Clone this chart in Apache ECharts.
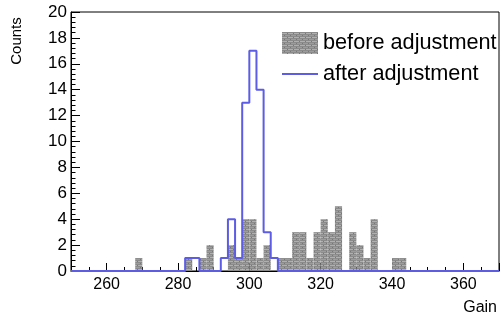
<!DOCTYPE html>
<html>
<head>
<meta charset="utf-8">
<script src="https://cdn.jsdelivr.net/npm/echarts@6/dist/echarts.min.js"></script>
<style>
  html, body { margin: 0; padding: 0; background: #fff; }
  #main { width: 502px; height: 317px; }
</style>
</head>
<body>
<div id="main"></div>
<script>
// histogram binning: 60 bins of width 2 from 250 to 370
const xMin = 250;
const xMax = 370;
const binWidth = 2;

// before adjustment (grey filled histogram), one value per bin
const beforeCounts = [
  0, 0, 0, 0, 0, 0, 0, 0, 0, 1,
  0, 0, 0, 0, 0, 0, 1, 0, 1, 2,
  0, 0, 2, 1, 4, 4, 1, 2, 0, 1,
  1, 3, 3, 1, 3, 4, 3, 5, 0, 3,
  2, 1, 4, 0, 0, 1, 1, 0, 0, 0,
  0, 0, 0, 0, 0, 0, 0, 0, 0, 0
];

// after adjustment (blue outline histogram)
const afterCounts = [
  0, 0, 0, 0, 0, 0, 0, 0, 0, 0,
  0, 0, 0, 0, 0, 0, 1, 1, 0, 0,
  0, 1, 4, 1, 13, 17, 14, 3, 1, 0,
  0, 0, 0, 0, 0, 0, 0, 0, 0, 0,
  0, 0, 0, 0, 0, 0, 0, 0, 0, 0,
  0, 0, 0, 0, 0, 0, 0, 0, 0, 0
];

const yMin = 0;
const yMax = 20;
const yStep = 2;

const FONT = 'Liberation Sans, Arial, Helvetica, sans-serif';

// grey brick-like fill, close to the ROOT fill pattern
function makePattern() {
  let c = document.createElement('canvas');
  c.width = 6;
  c.height = 4;
  let g = c.getContext('2d');
  g.fillStyle = '#8a8a8a';
  g.fillRect(0, 0, 6, 4);
  g.fillStyle = '#b0b0b0';
  g.fillRect(0, 1, 6, 1);
  g.fillStyle = '#9c9c9c';
  g.fillRect(0, 3, 6, 1);
  g.fillStyle = '#787878';
  g.fillRect(2, 3, 1, 1);
  g.fillRect(5, 1, 1, 1);
  return { image: c, repeat: 'repeat' };
}
const greyFill = makePattern();

let beforeData = beforeCounts.map(function (v, i) { return [xMin + i * binWidth, v]; });
let afterData = afterCounts.map(function (v, i) { return [xMin + i * binWidth, v]; });
afterData.push([xMax, afterCounts[afterCounts.length - 1]]);

let myChart = echarts.init(document.getElementById('main'));

let option = {
  animation: false,
  backgroundColor: '#fff',
  grid: {
    left: 71, right: 3, top: 12, bottom: 46,
    show: true, borderColor: '#000', borderWidth: 1
  },
  legend: {
    orient: 'vertical',
    left: 277,
    top: 27,
    itemWidth: 36,
    itemHeight: 22,
    itemGap: 9,
    textStyle: { fontFamily: FONT, fontSize: 21.7, color: '#000', lineHeight: 22 },
    data: [
      { name: 'before adjustment', icon: 'rect', itemStyle: { color: greyFill } },
      { name: 'after adjustment', icon: 'path://M0,10L36,10L36,12L0,12Z', itemStyle: { color: '#5c5ce6' } }
    ]
  },
  xAxis: [
    {
      type: 'value',
      min: xMin,
      max: xMax,
      axisLine: { show: true, lineStyle: { color: '#000' } },
      axisTick: { inside: true, length: 8, lineStyle: { color: '#000' } },
      axisLabel: {
        margin: 6,
        color: '#000', fontFamily: FONT, fontSize: 16,
        formatter: function (v) { return v % 20 === 0 ? String(v) : ''; }
      },
      splitLine: { show: false }
    },
    {
      // minor ticks every 5
      type: 'value',
      position: 'bottom',
      min: xMin,
      max: xMax,
      interval: 5,
      axisLine: { show: false },
      axisTick: { inside: true, length: 4, lineStyle: { color: '#000' } },
      axisLabel: { show: false },
      splitLine: { show: false }
    }
  ],
  yAxis: {
    type: 'value',
    min: yMin,
    max: yMax,
    interval: yStep,
    axisLine: { show: true, lineStyle: { color: '#000' } },
    axisTick: { inside: true, length: 9, lineStyle: { color: '#000' } },
    minorTick: { show: true, splitNumber: 5, length: 4.5, lineStyle: { color: '#000' } },
    axisLabel: { margin: 4, color: '#000', fontFamily: FONT, fontSize: 17 },
    splitLine: { show: false }
  },
  graphic: [
    {
      type: 'text',
      x: 17, y: 41,
      rotation: Math.PI / 2,
      style: { text: 'Counts', font: '15px ' + FONT, fill: '#000', align: 'center', verticalAlign: 'middle' }
    },
    {
      type: 'text',
      x: 497, y: 300,
      style: { text: 'Gain', font: '16px ' + FONT, fill: '#000', align: 'right', verticalAlign: 'top' }
    }
  ],
  series: [
    {
      name: 'before adjustment',
      type: 'custom',
      xAxisIndex: 0,
      itemStyle: { color: greyFill },
      encode: { x: 0, y: 1 },
      clip: true,
      renderItem: function (params, api) {
        let x0 = api.value(0);
        let n = api.value(1);
        if (!n) return;
        let p0 = api.coord([x0, n]);
        let p1 = api.coord([x0 + binWidth, 0]);
        return {
          type: 'rect',
          shape: { x: p0[0], y: p0[1], width: p1[0] - p0[0], height: p1[1] - p0[1] },
          style: { fill: greyFill }
        };
      },
      data: beforeData,
      z: 2
    },
    {
      name: 'after adjustment',
      type: 'line',
      xAxisIndex: 0,
      step: 'end',
      symbol: 'none',
      lineStyle: { color: '#5c5ce6', width: 2 },
      itemStyle: { color: '#5c5ce6' },
      data: afterData,
      z: 3
    }
  ]
};

myChart.setOption(option);
</script>
</body>
</html>
